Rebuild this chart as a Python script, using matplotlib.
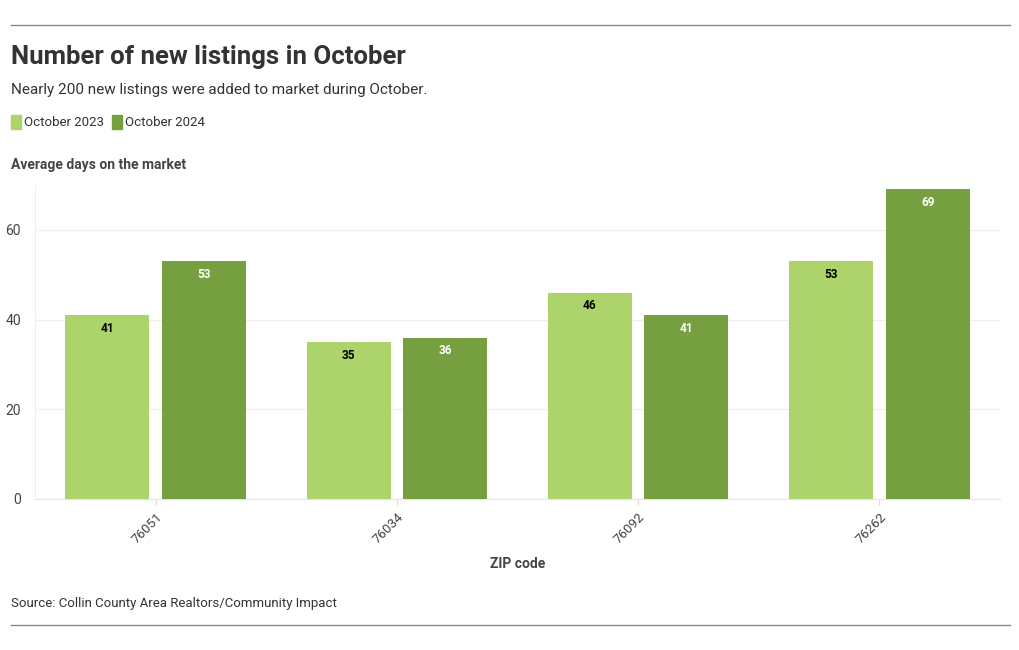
import numpy as np
import matplotlib.pyplot as plt
from matplotlib.lines import Line2D
from matplotlib.patches import Rectangle

zips = ["76051", "76034", "76092", "76262"]
oct_2023 = [41, 35, 46, 53]
oct_2024 = [53, 36, 41, 69]
series_names = ["October 2023", "October 2024"]

light = "#acd46a"
dark = "#76a040"
text_col = "#333333"

plt.rcParams["font.family"] = ["Roboto", "DejaVu Sans"]

fig = plt.figure(figsize=(10.2, 6.5), dpi=100)
W, H = 1020, 650


def fx(px):
    return px / W


def fy(py):
    return 1 - py / H


# axes: x 35..1000 px, y 185..499 px
ax = fig.add_axes([fx(35), fy(499), fx(1000) - fx(35), fy(185) - fy(499)])

x = np.arange(len(zips))
w = 0.348
b1 = ax.bar(x - 0.2, oct_2023, w, color=light, zorder=3)
b2 = ax.bar(x + 0.2, oct_2024, w, color=dark, zorder=3)

for rect, v in zip(b1, oct_2023):
    ax.annotate(str(v), (rect.get_x() + rect.get_width() / 2, v), xytext=(0, -9.5),
                textcoords="offset points", ha="center", va="center",
                fontsize=8.5, fontweight="bold", color="black", zorder=4)
for rect, v in zip(b2, oct_2024):
    ax.annotate(str(v), (rect.get_x() + rect.get_width() / 2, v), xytext=(0, -9.5),
                textcoords="offset points", ha="center", va="center",
                fontsize=8.5, fontweight="bold", color="white", zorder=4)

ax.set_xlim(-0.5, len(zips) - 0.5)
ax.set_ylim(0, 70)
ax.set_yticks([0, 20, 40, 60])
ax.set_xticks(x)
ax.set_xticklabels(zips, rotation=45, ha="right", rotation_mode="anchor")
ax.tick_params(axis="x", length=4, color="#dddddd", labelsize=9.5, labelcolor="#444444", pad=4)
ax.tick_params(axis="y", length=0, labelsize=10, labelcolor="#444444", pad=10)
ax.grid(axis="y", color="#eeeeee", linewidth=0.9, zorder=0)
for s in ["top", "right"]:
    ax.spines[s].set_visible(False)
ax.spines["left"].set_color("#eeeeee")
ax.spines["bottom"].set_color("#e6e6e6")

ax.set_xlabel("ZIP code", fontsize=10, fontweight="bold", color="#444444", labelpad=8)

# header / footer texts
fig.text(fx(11), fy(57), "Number of new listings in October", fontsize=18.5,
         fontweight="bold", color=text_col, va="center", ha="left")
fig.text(fx(11), fy(90), "Nearly 200 new listings were added to market during October.",
         fontsize=11, color=text_col, va="center", ha="left")

# legend
renderer = fig.canvas.get_renderer()
lx = 11
for name, col in zip(series_names, [light, dark]):
    fig.patches.append(Rectangle((fx(lx), fy(129)), fx(10), fy(115) - fy(129),
                                 transform=fig.transFigure, color=col, figure=fig))
    t = fig.text(fx(lx + 13), fy(122), name, fontsize=9.5, color=text_col, va="center", ha="left")
    lx += 13 + t.get_window_extent(renderer).width + 8

fig.text(fx(11), fy(165), "Average days on the market", fontsize=10, fontweight="bold",
         color="#444444", va="center", ha="left")
fig.text(fx(11), fy(603), "Source: Collin County Area Realtors/Community Impact",
         fontsize=9.5, color=text_col, va="center", ha="left")

for py in [25, 625]:
    fig.add_artist(Line2D([fx(11), fx(1010)], [fy(py), fy(py)], transform=fig.transFigure,
                          color="#888888", linewidth=1))

fig.savefig("out.png", dpi=100)
